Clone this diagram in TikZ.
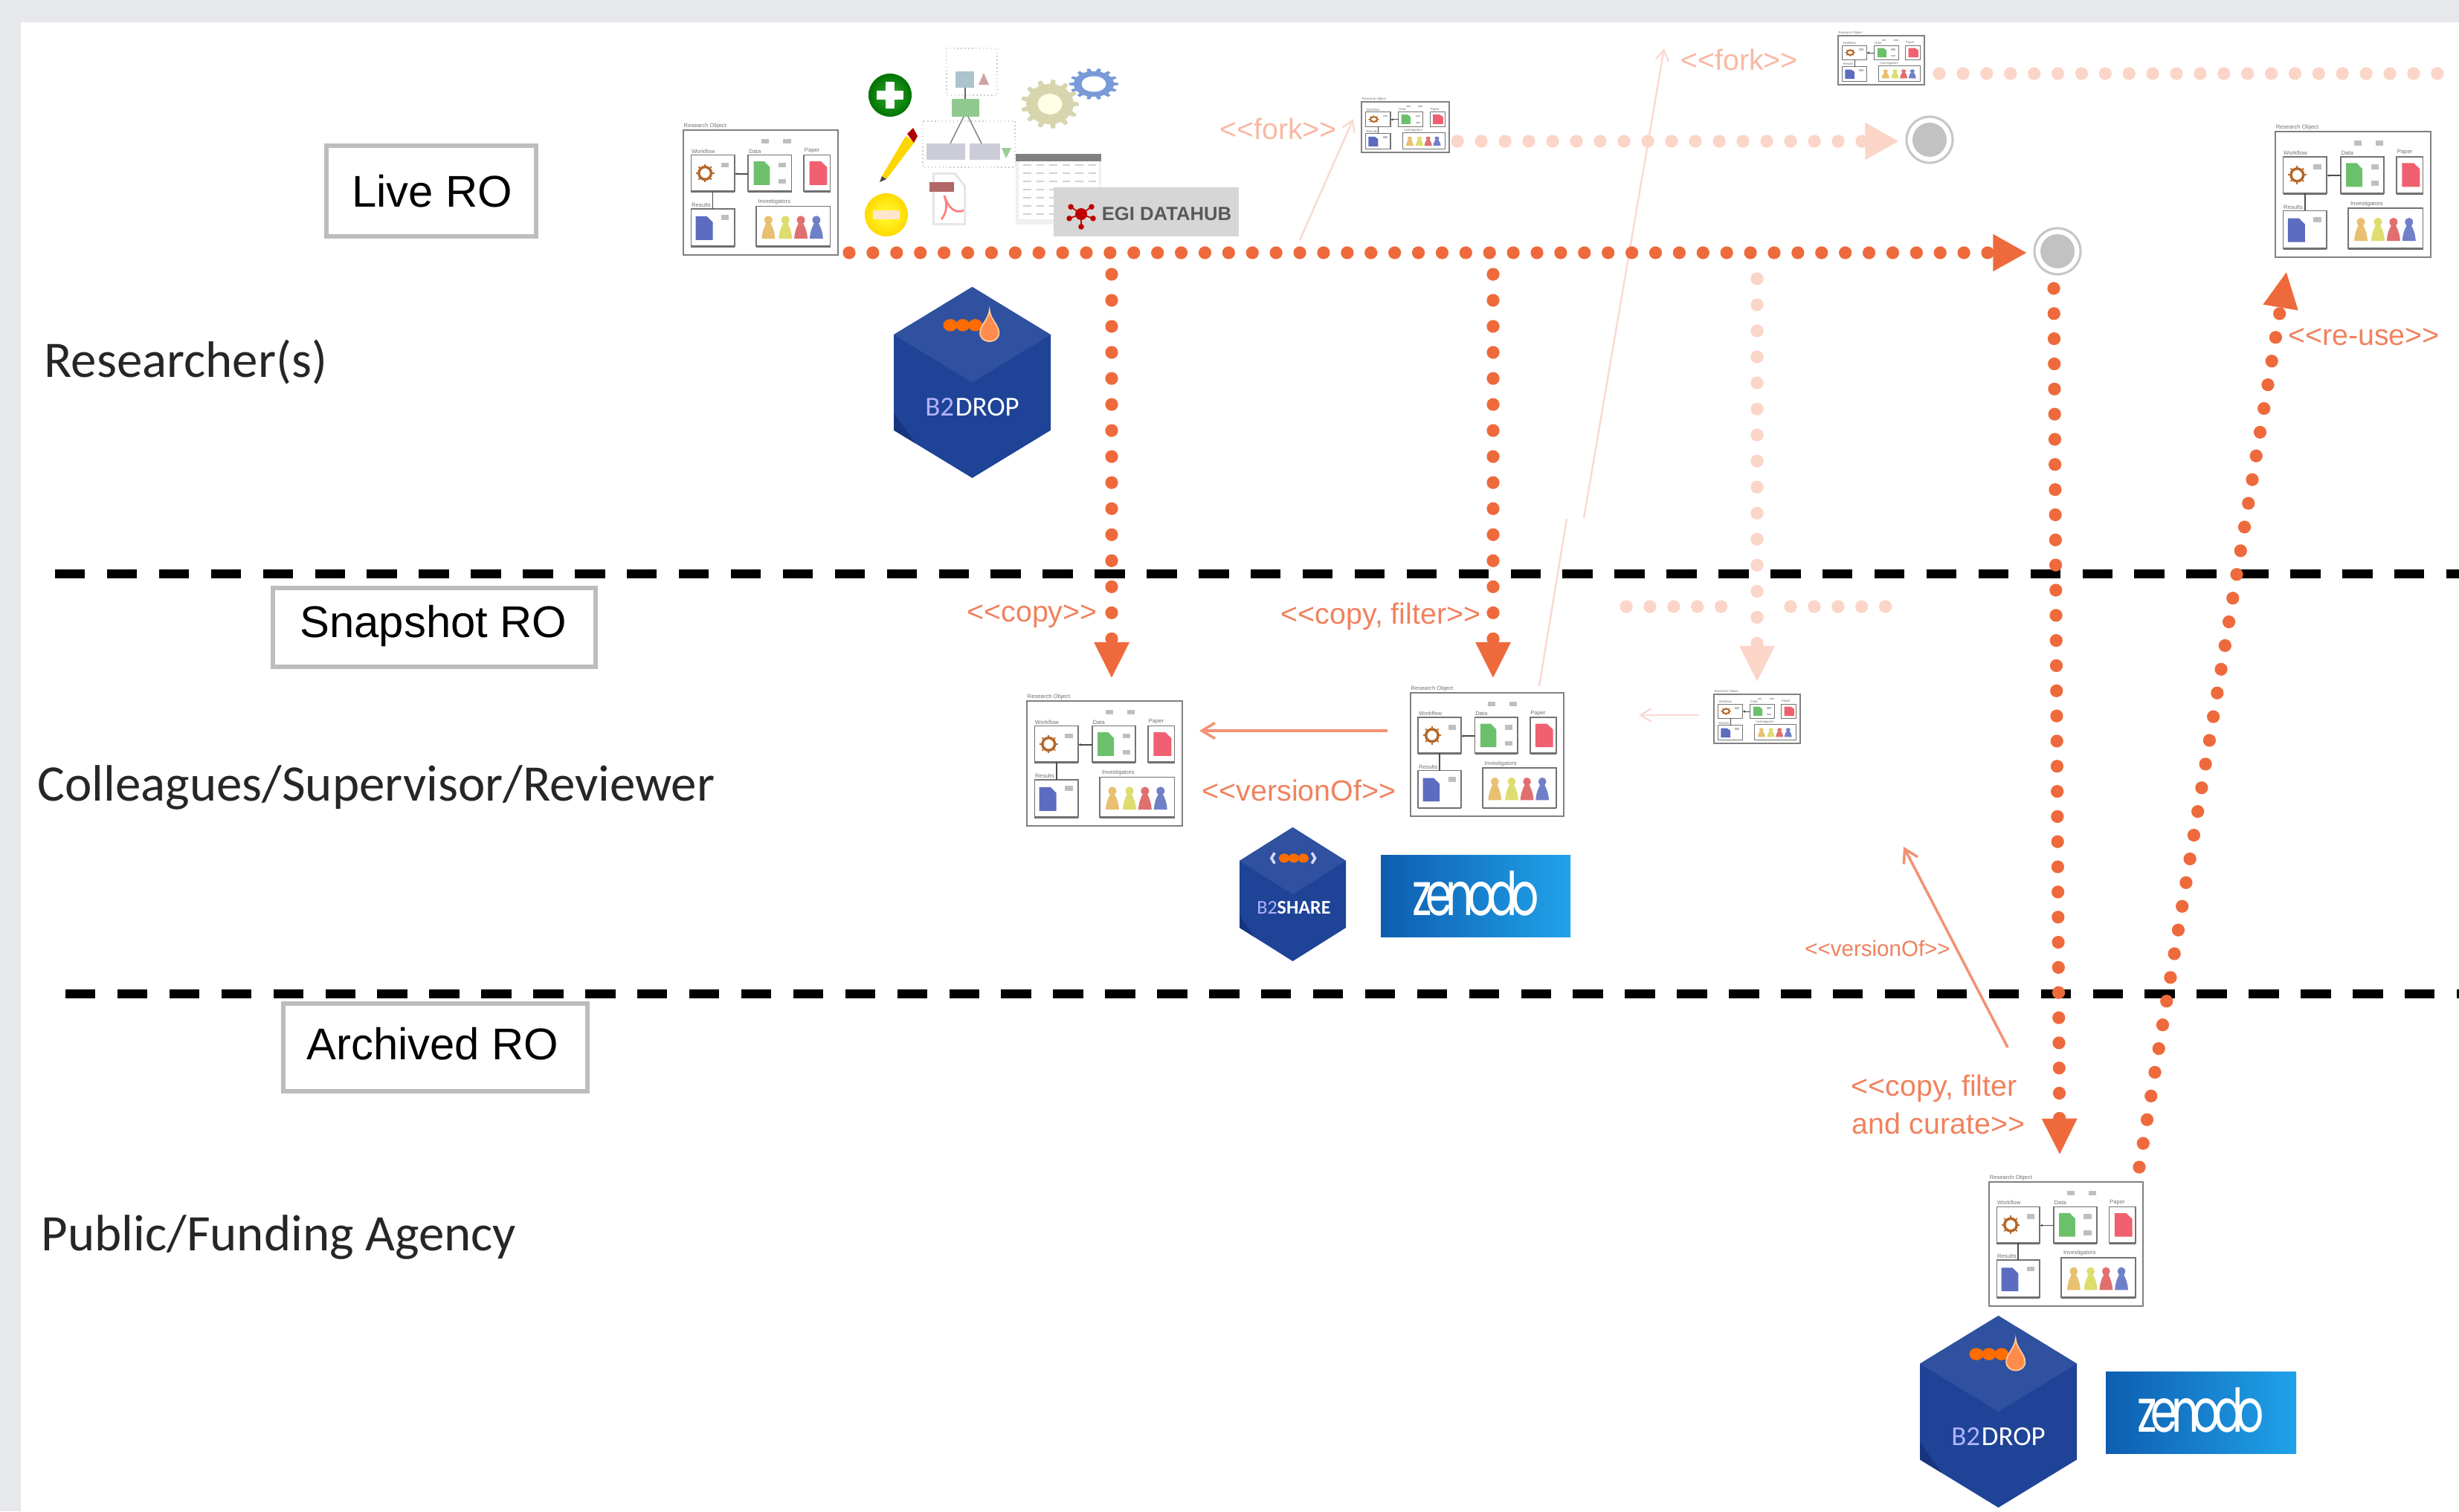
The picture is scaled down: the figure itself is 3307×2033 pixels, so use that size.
\documentclass[tikz,border=0pt]{standalone}
\usepackage{fontspec}
\usetikzlibrary{arrows.meta}
\setmainfont{Liberation Sans}
\newfontfamily\calib{Carlito}
\newfontfamily\zenf[LetterSpace=-15]{Poppins}
\definecolor{frameg}{HTML}{E6E8EC}
\definecolor{orm}{HTML}{EE6A3C}
\definecolor{orlab}{HTML}{F0825E}
\definecolor{orfade}{HTML}{FBD5C8}
\definecolor{orlabfade}{HTML}{F8B9A4}
\definecolor{orthin}{HTML}{F39274}
\definecolor{orfaint}{HTML}{FBD9D2}
\definecolor{hexblue}{HTML}{1E4397}
\definecolor{hextop}{HTML}{2F519F}
\definecolor{hexdark}{HTML}{17357F}
\definecolor{zenL}{HTML}{0E5DB0}
\definecolor{zenR}{HTML}{20A2EA}
\definecolor{boxg}{HTML}{BDBDBD}
\definecolor{docg}{HTML}{6CC06C}
\definecolor{docr}{HTML}{F06070}
\definecolor{docb}{HTML}{5C6CC0}
\definecolor{gearb}{HTML}{B4682A}
\definecolor{pa}{HTML}{E8C070}
\definecolor{pb}{HTML}{DDDD70}
\definecolor{pc}{HTML}{E07070}
\definecolor{pd}{HTML}{7080C8}
\tikzset{
 dotmain/.style={line width=4.9pt,line cap=round,dash pattern=on 0pt off #1pt,color=orm},
 dotfade/.style={line width=4.9pt,line cap=round,dash pattern=on 0pt off #1pt,color=orfade},
 headbig/.style={-{Triangle[length=14pt,width=12.5pt]}},
 headwide/.style={-{Triangle[length=13pt,width=13.3pt]}},
 thinarrow/.style={line width=1pt,-{Straight Barb[length=5pt,width=6pt]}},
 faintarrow/.style={line width=.7pt,-{Straight Barb[length=4pt,width=5pt]}},
 sep/.style={black,line width=3.4pt,dash pattern=on 11.5pt off 8.38pt},
 rolabel/.style={draw=boxg,line width=1.7pt,fill=white,inner sep=0pt},
 rotext/.style={inner sep=0pt,font=\fontsize{17}{20}\selectfont},
 role/.style={inner sep=0pt,anchor=west,font=\calib\fontsize{19.6}{22}\selectfont,text=black!85},
 orlabel/.style={inner sep=0pt,text=orlab,font=\fontsize{11.2}{14.5}\selectfont,align=center},
 fadelabel/.style={inner sep=0pt,text=orlabfade,font=\fontsize{11.2}{14}\selectfont},
}
% small document shape
\newcommand{\rodoc}[5]{\fill[#5] (#1,#2) -- ({#1+0.65*(#3-#1)},#2) -- (#3,{#2+0.25*(#4-#2)}) -- (#3,#4) -- (#1,#4) -- cycle;}
\newcommand{\robx}[4]{\fill[black!60] (#1,#2) rectangle (#3,{#4+1.2});\draw[black!55,fill=white,line width=\rolw] (#1,#2) rectangle (#3,#4);}
\newcommand{\rotag}[2]{\fill[black!25] ({#1-2.5},{#2-2}) rectangle ({#1+2.5},{#2+2});}
\newcommand{\ropers}[2]{\fill[#2] (#1,72) ellipse [x radius=2.6,y radius=3.4];\fill[#2] ({#1-4.3},87) .. controls ({#1-4},80) and ({#1-2},76) .. ({#1-1.2},74) -- ({#1+1.2},74) .. controls ({#1+2},76) and ({#1+4},80) .. ({#1+4.3},87) -- cycle;}
% research object icon: name, x0, y0, x1, y1, line width
\newcommand{\roicon}[6]{%
 \pgfmathsetmacro\rsx{(#4-#2)/100}\pgfmathsetmacro\rsy{(#5-#3)/100}\pgfmathsetmacro\rf{(#4-#2)*0.0105}
 \def\rolw{#6}
 \coordinate (#1) at ({(#2+#4)/2},{(#3+#5)/2});
 \begin{scope}[shift={(#2,#3)},xscale=\rsx,yscale=\rsy]
 \fill[white] (0,0) rectangle (100,100);
 \draw[black!50,line width=1.5*#6] (0,0) rectangle (100,100);
 \tikzset{tn/.style={inner sep=0pt,anchor=south west,text=black!55,font=\fontsize{\rf}{\rf}\selectfont}}
 \node[tn] (#1t0) at (0,-1) {Research Object};
 \node[tn] (#1t1) at (5,19) {Workflow};
 \node[tn] (#1t2) at (42,19) {Data};
 \node[tn] (#1t3) at (78,19) {Paper};
 \node[tn] (#1t4) at (5,62) {Results};
 \node[tn] (#1t5) at (48,60) {Investigators};
 \rotag{53}{9}\rotag{67}{9}
 \robx{5}{20}{33}{49}\robx{42}{20}{70}{49}\robx{78}{20}{95}{49}\robx{5}{63}{33}{93}\robx{47}{61}{95}{93}
 \draw[black!70,line width=#6,-{Latex[length=1pt,width=1pt]}] (42,35) -- (33,35);
 \draw[black!70,line width=#6] (19,49) -- (19,63);
 \draw[color=gearb,line width=2*#6,fill=white] (14,34.5) ellipse [x radius=4,y radius=5];
 \foreach \ga in {0,45,...,315}{\draw[color=gearb,line width=#6] ({14+4*cos(\ga)},{34.5+5*sin(\ga)}) -- ({14+6*cos(\ga)},{34.5+7.4*sin(\ga)});}
 \rotag{27}{28}\rotag{64}{28}\rotag{64}{41}\rotag{27}{70}
 \rodoc{45.5}{25}{56}{44}{docg}
 \rodoc{81.5}{25}{93}{44}{docr}
 \rodoc{8}{69}{19}{88}{docb}
 \ropers{55}{pa}\ropers{66}{pb}\ropers{76}{pc}\ropers{86}{pd}
 \end{scope}}
% hexagon logo: name, x0, y0, x1, y1
\newcommand{\hexbase}[5]{%
 \pgfmathsetmacro\hsx{(#4-#2)/100}\pgfmathsetmacro\hsy{(#5-#3)/100}
 \coordinate (#1) at ({(#2+#4)/2},{(#3+#5)/2});
 \begin{scope}[shift={(#2,#3)},xscale=\hsx,yscale=\hsy]
 \fill[hexblue] (50,0) -- (100,25) -- (100,75) -- (50,100) -- (0,75) -- (0,25) -- cycle;
 \fill[hexdark] (0,66) -- (0,75) -- (14,82) -- cycle;
 \fill[hextop] (50,0) -- (100,25) -- (50,50) -- (0,25) -- cycle;
 \end{scope}}
\newcommand{\hexdrop}[5]{%
 \hexbase{#1}{#2}{#3}{#4}{#5}
 \pgfmathsetmacro\hsx{(#4-#2)/100}\pgfmathsetmacro\hsy{(#5-#3)/100}
 \begin{scope}[shift={(#2,#3)},xscale=\hsx,yscale=\hsy]
 \fill[orange!85!red] (36,20) ellipse [x radius=4.5,y radius=3.2];
 \fill[orange!85!red] (44,20) ellipse [x radius=4.5,y radius=3.2];
 \fill[orange!85!red] (52,20) ellipse [x radius=4.5,y radius=3.2];
 \fill[orange!70!red!70!white,draw=white!60!orange,line width=.5pt] (61,12) .. controls (61.5,17) and (67,20) .. (67,24) .. controls (67,30) and (55,30) .. (55,24) .. controls (55,20) and (60.5,17) .. (61,12) -- cycle;
 \node[inner sep=0pt,font=\calib\fontsize{10.5}{12}\selectfont] (#1txt) at (50,63) {\textcolor{blue!30!white}{B2}\hspace{.5pt}\textcolor{white}{DROP}};
 \end{scope}}
\newcommand{\zen}[5]{%
 \shade[left color=zenL,right color=zenR] (#2,#3) rectangle (#4,#5);
 \node[inner sep=0pt,text=white,xscale=.72,font=\zenf\fontsize{23}{23}\selectfont] (#1) at ({(#2+#4)/2},{(#3+#5)/2-3}) {zenodo};}
% gear: centre, x radius, y radius, colour, teeth, hole colour, hole radius
\newcommand{\geart}[7]{%
 \pgfmathsetmacro\gst{360/#5}\pgfmathsetmacro\gnd{360-\gst}
 \begin{scope}[shift={(#1)},xscale=#2,yscale=#3]
 \foreach \ga in {0,\gst,...,\gnd}{\fill[#4] ({\ga-7}:.8) -- ({\ga-4}:1) -- ({\ga+4}:1) -- ({\ga+7}:.8) -- cycle;}
 \fill[#4] (0,0) circle [radius=.82];
 \fill[#6] (0,0) circle [radius=#7];
 \end{scope}}
\begin{document}
\begin{tikzpicture}[x=0.01cm,y=-0.01cm]
\useasboundingbox (0,0) rectangle (3307,2033);
\fill[white] (0,0) rectangle (3307,2033);
\fill[frameg] (0,0) rectangle (3307,30);
\fill[frameg] (0,0) rectangle (28,2033);

% separators
\coordinate (s1a) at (74,772); \coordinate (s1b) at (3307,772);
\coordinate (s2a) at (88,1337); \coordinate (s2b) at (3307,1337);
\draw[sep] (s1a) -- (s1b);
\draw[sep] (s2a) -- (s2b);

% left column
\node[rolabel,minimum width=80.2pt,minimum height=34.7pt] (livebox) at (580,257) {};
\node[rotext] (live) at (581,257) {Live RO};
\node[rolabel,minimum width=123.5pt,minimum height=29.9pt] (snapbox) at (584,844) {};
\node[rotext] (snap) at (583,842) {Snapshot RO};
\node[rolabel,minimum width=116.4pt,minimum height=33.6pt] (archbox) at (585.5,1409) {};
\node[rotext] (arch) at (582,1404) {Archived RO};
\node[role] (r1) at (59,487) {Researcher(s)};
\node[role] (r2) at (50,1059) {Colleagues/Supervisor/Reviewer};
\node[role] (r3) at (55,1664) {Public/Funding Agency};

% faint connectors
\coordinate (f1a) at (1748,323); \coordinate (f1b) at (1820,160);
\draw[orfaint,faintarrow] (f1a) -- (f1b);
\coordinate (f2a) at (2070,923); \coordinate (f2m) at (2107,698); \coordinate (f2n) at (2130,697); \coordinate (f2b) at (2238,65);
\draw[orfaint,line width=.7pt] (f2a) -- (f2m);
\draw[orfaint,faintarrow] (f2n) -- (f2b);

% research objects
\roicon{ro1}{919}{175}{1127}{343}{.5pt}
\roicon{rof1}{1831}{137}{1949}{205}{.3pt}
\roicon{rof2}{2472}{48}{2588}{114}{.3pt}
\roicon{ror}{3060}{177}{3269}{346}{.5pt}
\roicon{ros1}{1381}{943}{1590}{1111}{.5pt}
\roicon{ros2}{1897}{932}{2103}{1098}{.5pt}
\roicon{ros3}{2305}{934}{2421}{1000}{.3pt}
\roicon{roa}{2675}{1590}{2882}{1757}{.5pt}

% top cluster
\shade[inner color=green!60!black!80!white,outer color=green!45!black] (1197,128) circle [radius=29];
\fill[white] (1191,110) rectangle (1203,146);\fill[white] (1179,122) rectangle (1215,134);
\shade[inner color=yellow!80!white,outer color=yellow!70!orange] (1192,289) circle [radius=29];
\fill[white!80!orange] (1174,283) rectangle (1210,295);
% pencil
\fill[yellow!75!orange] (1186,237) -- (1218,183) -- (1230,191) -- (1192,241) -- cycle;
\fill[red!70!black] (1220,180) -- (1228,172) -- (1234,183) -- (1229,192) -- cycle;
\fill[black!70] (1186,237) -- (1183,245) -- (1192,241) -- cycle;
% workflow mini
\draw[black!20,densely dotted] (1273,65) rectangle (1341,128);
\fill[cyan!30!gray!60] (1285,96) rectangle (1310,118);
\fill[red!30!gray!55] (1323,98) -- (1330,114) -- (1316,114) -- cycle;
\fill[green!35!gray!65] (1280,133) rectangle (1317,157);
\draw[black!60] (1298,118) -- (1298,133);
\draw[black!20,densely dotted] (1241,163) rectangle (1365,225);
\fill[blue!15!gray!35] (1246,193) rectangle (1298,215);
\fill[blue!15!gray!35] (1304,193) rectangle (1345,215);
\fill[green!35!gray!60] (1347,199) -- (1360,199) -- (1353,213) -- cycle;
\draw[black!50] (1296,157) -- (1278,193) (1302,157) -- (1320,193);
% gears
\geart{1412,140}{39}{33}{yellow!35!gray!55}{13}{yellow!10!white}{.42}
\geart{1471,113}{33}{21}{cyan!45!blue!55!white}{14}{white}{.5}
% pdf
\fill[black!10] (1254,232) -- (1285,232) -- (1299,250) -- (1299,303) -- (1254,303) -- cycle;
\fill[white] (1257,235) -- (1283,235) -- (1296,251) -- (1296,300) -- (1257,300) -- cycle;
\fill[red!50!black!60!white] (1250,245) rectangle (1283,258);
\draw[red!50!white,line width=.8pt] (1266,295) .. controls (1278,280) and (1270,265) .. (1270,263) .. controls (1275,280) and (1285,288) .. (1296,283);
% table
\fill[black!6] (1366,207) rectangle (1481,302);
\fill[white] (1370,215) rectangle (1478,295);
\fill[black!50] (1366,207) rectangle (1481,217);
\foreach \ty in {222,233,...,288}{\draw[black!18,line width=.8pt,dash pattern=on 3pt off 2pt] (1376,\ty) -- (1475,\ty);}
% EGI
\fill[black!16] (1417,252) rectangle (1666,318);
\node[inner sep=0pt,text=black!65,font=\bfseries\fontsize{7.3}{9}\selectfont] (egi) at (1569,288) {EGI DATAHUB};
\coordinate (egic) at (1454,288);
\foreach \a in {20,90,160,215,325}{\draw[red!75!black,line width=.5pt] (egic) -- ++(\a:17);\fill[red!75!black] (egic) ++(\a:17) circle [radius=3.8];}
\fill[red!75!black] (egic) circle [radius=8];

% logos
\hexdrop{hx1}{1202}{386}{1413}{643}
\hexdrop{hx3}{2582}{1770}{2793}{2028}
\hexbase{hx2}{1667}{1113}{1810}{1293}
\begin{scope}[shift={(1667,1113)},xscale=1.43,yscale=1.8]
 \fill[orange!85!red] (42,23) ellipse [x radius=5,y radius=3.4];
 \fill[orange!85!red] (51,23) ellipse [x radius=5,y radius=3.4];
 \fill[orange!85!red] (60,23) ellipse [x radius=5,y radius=3.4];
 \draw[white!85!blue,line width=1pt] (33,19) -- (30,23) -- (33,27) (68,19) -- (71,23) -- (68,27);
 \node[inner sep=0pt,font=\calib\fontsize{7.4}{9}\selectfont] (hx2t) at (51,60) {\textcolor{blue!30!white}{B2}\textcolor{white}{\bfseries SHARE}};
\end{scope}
\zen{zen1}{1857}{1150}{2112}{1260}
\zen{zen2}{2832}{1845}{3088}{1955}

% end states
\coordinate (e1) at (2767,338); \coordinate (e2) at (2595,188);
\fill[white] (e1) circle [radius=33];\draw[black!22,line width=.9pt] (e1) circle [radius=31];\fill[black!24] (e1) circle [radius=23];
\fill[white] (e2) circle [radius=33];\draw[black!22,line width=.9pt] (e2) circle [radius=31];\fill[black!24] (e2) circle [radius=23];

% faded dotted connectors
\coordinate (a1) at (1960,190); \coordinate (a2) at (2554,190);
\draw[dotfade=9.1,headwide] (a1) -- (a2);
\coordinate (a3) at (2608,99); \coordinate (a4) at (3307,99);
\draw[dotfade=9.07] (a3) -- (a4);
\coordinate (a5) at (2363,375); \coordinate (a6) at (2363,918);
\draw[dotfade=9.96,headbig] (a5) -- (a6);
\coordinate (a7) at (2187,816); \coordinate (a8) at (2320,816);
\coordinate (a9) at (2408,816); \coordinate (a10) at (2541,816);
\draw[dotfade=9.07] (a7) -- (a8);
\draw[dotfade=9.07] (a9) -- (a10);

% main dotted connectors
\coordinate (b1) at (1142,340); \coordinate (b2) at (2726,340);
\draw[dotmain=9.07,headwide] (b1) -- (b2);
\coordinate (b3) at (1495,369); \coordinate (b4) at (1495,913);
\draw[dotmain=9.96,headbig] (b3) -- (b4);
\coordinate (b5) at (2008,369); \coordinate (b6) at (2008,913);
\draw[dotmain=9.96,headbig] (b5) -- (b6);
\coordinate (b7) at (2762,388); \coordinate (b8) at (2770,1554);
\draw[dotmain=9.62,headbig] (b7) -- (b8);
\coordinate (b9) at (2877,1570); \coordinate (b10) at (3075,365);
\draw[dotmain=9.19,headbig] (b9) -- (b10);

% thin connectors
\coordinate (c1) at (1866,983); \coordinate (c2) at (1613,983);
\draw[orthin,thinarrow] (c1) -- (c2);
\coordinate (c3) at (2285,962); \coordinate (c4) at (2204,962);
\draw[orfaint,faintarrow] (c3) -- (c4);
\coordinate (c5) at (2700,1409); \coordinate (c6) at (2560,1139);
\draw[orthin,thinarrow] (c5) -- (c6);

% labels
\node[fadelabel] (l1) at (1719,173) {<{}<fork>{}>};
\node[fadelabel] (l2) at (2339,80) {<{}<fork>{}>};
\node[orlabel] (l3) at (1388,829) {<{}<copy>{}>};
\node[orlabel] (l4) at (1857,829) {<{}<copy, filter>{}>};
\node[orlabel] (l5) at (1747,1063) {<{}<versionOf>{}>};
\node[orlabel,font=\fontsize{8.4}{10}\selectfont] (l6) at (2525,1276) {<{}<versionOf>{}>};
\node[orlabel] (l7) at (2607,1486) {<{}<copy, filter\hspace*{3.3pt}\\and curate>{}>};
\node[orlabel] (l8) at (3179,453) {<{}<re-use>{}>};
\end{tikzpicture}
\end{document}
